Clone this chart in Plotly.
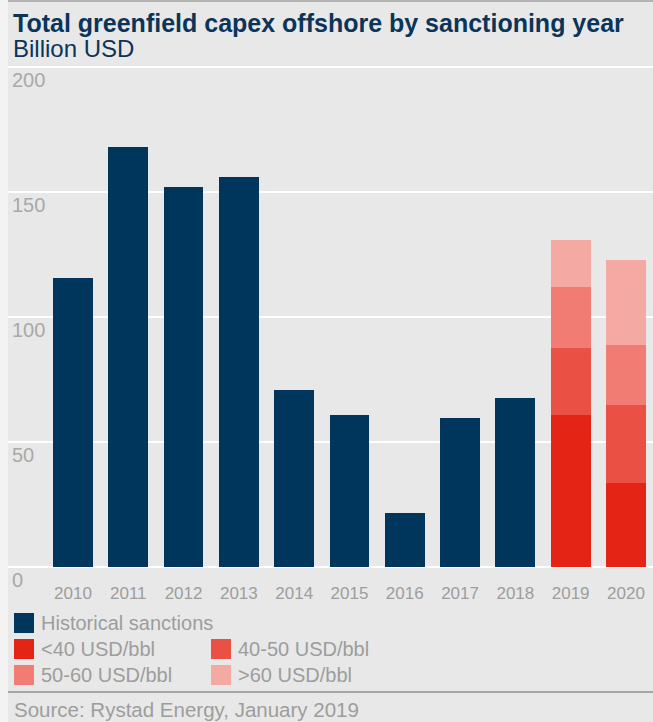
import plotly.graph_objects as go

# Greenfield offshore capex by sanctioning year (billion USD)
hist_years = [2010, 2011, 2012, 2013, 2014, 2015, 2016, 2017, 2018]
hist_capex = [115.7, 168.1, 152.1, 156.1, 71.0, 60.9, 21.7, 59.7, 67.7]

# Forecast years split by breakeven price band
fc_years = [2019, 2020]
band_names = ["<40 USD/bbl", "40-50 USD/bbl", "50-60 USD/bbl", ">60 USD/bbl"]
band_lt40 = [60.9, 33.7]
band_40_50 = [26.8, 31.2]
band_50_60 = [24.4, 24.0]
band_gt60 = [18.9, 34.0]

hist_name = "Historical sanctions"
y_ticks = [0, 50, 100, 150, 200]
x_ticks = hist_years + fc_years

NAVY = "#00365c"
BAND_COLORS = ["#e42516", "#eb5045", "#f07c73", "#f4a9a3"]
GREY_TXT = "#9d9d9d"
BG = "#e8e8e8"
FONT = "Liberation Sans, Arial, sans-serif"

W, H = 653, 722
ML, MR, MT, MB = 8, 0, 60, 147
PW, PH = W - ML - MR, H - MT - MB


def px(x):
    return (x - ML) / PW


def py(y):
    return (H - MB - y) / PH


fig = go.Figure()
bar_w = 0.72
fig.add_trace(go.Bar(x=hist_years, y=hist_capex, name=hist_name,
                     marker=dict(color=NAVY, line=dict(width=0)), width=bar_w))
for name, vals, col in zip(band_names, [band_lt40, band_40_50, band_50_60, band_gt60], BAND_COLORS):
    fig.add_trace(go.Bar(x=fc_years, y=vals, name=name,
                         marker=dict(color=col, line=dict(width=0)), width=bar_w))

shapes = [
    # light strip on the left edge
    dict(type="rect", xref="paper", yref="paper", x0=px(0), x1=px(8), y0=py(H), y1=py(0),
         fillcolor="#f3f3f3", line=dict(width=0), layer="below"),
    # top rule
    dict(type="line", xref="paper", yref="paper", x0=px(8), x1=px(W), y0=py(1), y1=py(1),
         line=dict(color="#b4b4b4", width=2)),
    # rule above the source line
    dict(type="line", xref="paper", yref="paper", x0=px(8), x1=px(W), y0=py(692), y1=py(692),
         line=dict(color="#a4a4a4", width=2)),
]

annotations = [
    dict(text="<b>Total greenfield capex offshore by sanctioning year</b>", xref="paper", yref="paper",
         x=px(11), y=py(23), xanchor="left", yanchor="middle", showarrow=False,
         font=dict(family=FONT, size=25, color="#0b3558")),
    dict(text="Billion USD", xref="paper", yref="paper",
         x=px(11), y=py(49), xanchor="left", yanchor="middle", showarrow=False,
         font=dict(family=FONT, size=24, color="#0b3558")),
    dict(text="Source: Rystad Energy, January 2019", xref="paper", yref="paper",
         x=px(12), y=py(709), xanchor="left", yanchor="middle", showarrow=False,
         font=dict(family=FONT, size=20.5, color=GREY_TXT)),
]

# legend: one row for history, then a 2x2 block for the price bands
legend_items = [(hist_name, NAVY)] + list(zip(band_names, BAND_COLORS))
slots = [(14, 623), (14, 649), (211, 649), (14, 675), (211, 675)]
for (label, col), (lx, ly) in zip(legend_items, slots):
    shapes.append(dict(type="rect", xref="paper", yref="paper",
                       x0=px(lx), x1=px(lx + 20), y0=py(ly - 10), y1=py(ly + 10),
                       fillcolor=col, line=dict(width=0)))
    annotations.append(dict(text=label, xref="paper", yref="paper",
                            x=px(lx + 25), y=py(ly), xanchor="left", yanchor="middle",
                            showarrow=False, font=dict(family=FONT, size=20, color=GREY_TXT)))

fig.update_layout(
    width=W, height=H,
    margin=dict(l=ML, r=MR, t=MT, b=MB, pad=0),
    paper_bgcolor=BG, plot_bgcolor=BG,
    barmode="stack", showlegend=False,
    font=dict(family=FONT, color=GREY_TXT),
    shapes=shapes, annotations=annotations,
    xaxis=dict(type="linear", range=[2008.825, 2020.489], tickmode="array",
               tickvals=x_ticks, ticktext=[str(y) for y in x_ticks],
               showgrid=False, zeroline=False, showline=False, ticks="",
               tickfont=dict(family=FONT, size=17, color=GREY_TXT), ticklabelstandoff=6),
    yaxis=dict(range=[-3.08, 202.9], tickmode="array", tickvals=y_ticks,
               showgrid=True, gridcolor="#ffffff", gridwidth=2,
               zeroline=True, zerolinecolor="#ffffff", zerolinewidth=2,
               showline=False, ticks="",
               ticklabelposition="inside", ticklabelshift=13, ticklabelstandoff=1,
               ticklabeloverflow="allow",
               tickfont=dict(family=FONT, size=20, color="#a9a9a9")),
)

fig.write_html("out.html")
